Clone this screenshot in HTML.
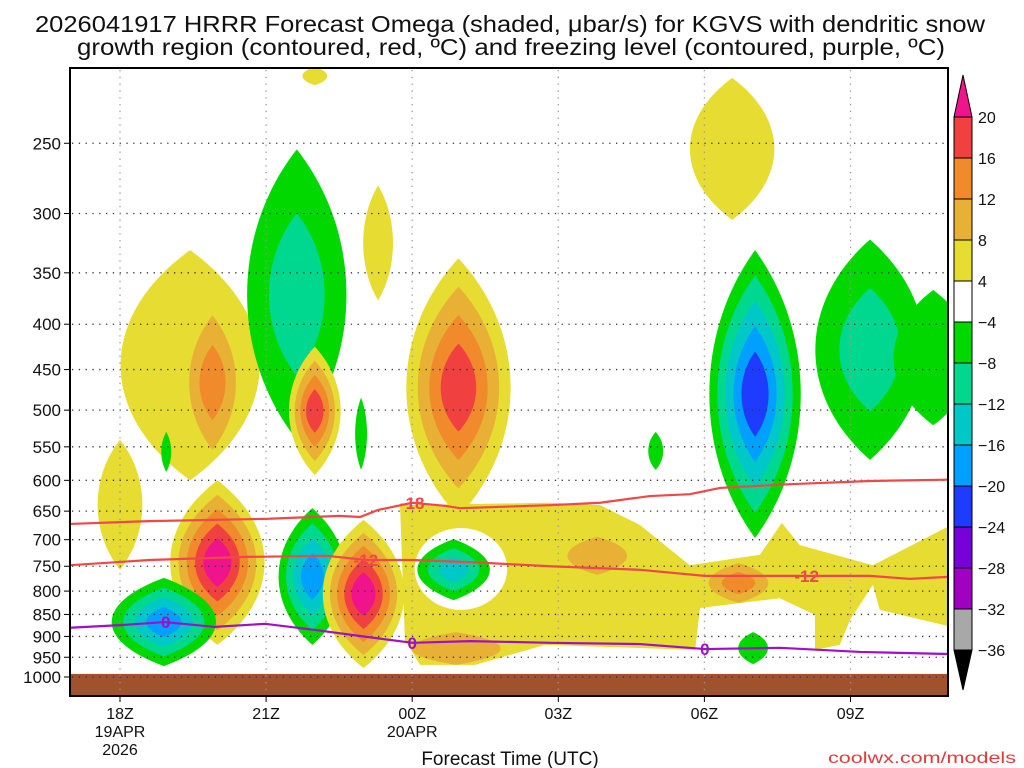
<!DOCTYPE html>
<html><head><meta charset="utf-8"><style>
html,body{margin:0;padding:0;background:#fff;}
svg{display:block;font-family:"Liberation Sans",sans-serif;}
</style></head><body>
<svg id="chart" width="1024" height="768" viewBox="0 0 1024 768" xmlns="http://www.w3.org/2000/svg">
<defs><clipPath id="plotclip"><rect x="70" y="68" width="878" height="628"/></clipPath></defs>
<text x="35" y="32" font-size="23" textLength="950" lengthAdjust="spacingAndGlyphs" fill="#111">2026041917 HRRR Forecast Omega (shaded, μbar/s) for KGVS with dendritic snow</text>
<text x="77" y="55" font-size="23" textLength="868" lengthAdjust="spacingAndGlyphs" fill="#111">growth region (contoured, red, ºC) and freezing level (contoured, purple, ºC)</text>
<g id="shading" clip-path="url(#plotclip)"></g>
<g id="grid"></g>
<g id="lines" clip-path="url(#plotclip)"></g>
<rect x="70" y="68" width="878" height="628" fill="none" stroke="#000" stroke-width="2"/>
<g id="axes"></g>
<g id="cbar"></g>
<text x="510" y="765" font-size="19" text-anchor="middle" fill="#111">Forecast Time (UTC)</text>
<text x="1016" y="763" font-size="16" text-anchor="end" fill="#e03a3a" textLength="188" lengthAdjust="spacingAndGlyphs">coolwx.com/models</text>
</svg>
<script>
// ---- data ----
const pressureTicks = [250,300,350,400,450,500,550,600,650,700,750,800,850,900,950,1000];
const timeTicks = [18,21,24,27,30,33];
const timeLabels = [["18Z","19APR","2026"],["21Z"],["00Z","20APR"],["03Z"],["06Z"],["09Z"]];
const cbarLabels = ["20","16","12","8","4","−4","−8","−12","−16","−20","−24","−28","−32","−36"];
const cbarColors = ["#f04040","#f08a2a","#e8b034","#e6dc32","#ffffff","#00d800","#00d890","#00c8c8","#00a0ff","#1e3cff","#7800d8","#a000c0","#a8a8a8"];
// blob: [hour, pTop, pBottom, halfWidthHours, levels]
const blobHours   = [22.0, 19.44, 19.9, 20.0, 18.0, 18.95, 18.9, 21.63, 22.0, 22.95, 23.3, 21.95, 23.0, 24.95, 30.57, 31.04, 33.4, 34.7, 29.0, 31.0, 27.8, 30.7, 24.9];
const blobTopP    = [205, 330, 391, 600, 540, 529, 773, 254, 424, 484, 279, 645, 665, 337, 211, 330, 321, 366, 529, 890, 695, 744, 890];
const blobBotP    = [215, 600, 554, 920, 757, 587, 972, 540, 592, 584, 376, 920, 977, 660, 305, 697, 569, 520, 584, 967, 767, 825, 969];
const blobWidth   = [0.25, 1.4, 0.47, 0.95, 0.45, 0.1, 1.05, 1.0, 0.52, 0.12, 0.3, 0.68, 0.82, 1.05, 0.85, 0.92, 1.1, 0.8, 0.15, 0.3, 0.6, 0.6, 0.9];
const blobLevels  = [["Y"],["Y"],["O8","O12"],["Y","O8","O12","R","M"],["Y"],["G"],["G","T","C","B"],["G","T"],["Y","O8","O12","R"],["G"],["Y"],["G","T","C","B"],["Y","O8","O12","R","M"],["Y","O8","O12","R"],["Y"],["G","T","C","B","B2"],["G","T"],["G"],["G"],["G"],["O8"],["O8","O12"],["O8"]];
// broad yellow band [hour, hPa]
const bandPoly = [[23.75,640],[26.83,636],[27.86,640],[28.68,674],[29.70,748],[31.14,728],[31.59,670],[31.96,710],[33.46,748],[35.2,668],[35.2,881],[33.6,840],[33.46,787],[32.99,862],[32.78,920],[32.27,932],[32.27,851],[31.55,815],[29.91,836],[29.81,932],[26.73,920],[25.29,969],[24.16,969],[23.85,908]];
// white hole around 01Z descent blob: [hour, pTop, pBot, halfWidth]
const holeBlob = [25.0, 679, 840, 0.95];
const holeGreen = [24.85, 699, 819, 0.73, ["G","T","C"]];
// contour lines
const freezeHours = [16.97,18,18.92,19.95,20.98,22.0,22.93,24.0,25.19,26.83,28.68,30.01,31.55,33.2,35.0];
const freezeP     = [880,874,867,878,871,885,899,915,911,915,918,930,927,937,942];
const m12Hours = [16.97,18.6,20.6,22.25,23.07,24.0,25.19,26.83,28.68,30.01,31.55,33.4,34.22,35.0];
const m12P     = [748,738,732,730,738,738,742,750,757,769,769,769,775,771];
const m18Hours = [16.97,18.6,21.06,22.5,22.93,23.3,24.0,24.67,24.98,26.83,27.86,28.88,29.7,30.32,31.76,33.4,35.0];
const m18P     = [672,667,663,658,660,648,636,641,645,640,636,625,622,612,606,601,599];
const labelFreeze = [[18.94,"0"],[24.0,"0"],[30.01,"0"]];
const labelM12 = [[23.05,"-12"],[32.1,"-12"]];
const labelM18 = [[24.0,"-18"]];
// ---- axes ----
const X = h => 120 + (h - 18) * 48.7;
const Y = p => 677 - 385 * Math.log(1000 / p);
const NS = "http://www.w3.org/2000/svg";
const colorMap = {Y:"#e6dc32",O8:"#e8b034",O12:"#f08a2a",R:"#f04040",M:"#f0148c",G:"#00d800",T:"#00d890",C:"#00c8c8",B:"#00a0ff",B2:"#1e3cff"};
function mk(tag, attrs, parent){const e=document.createElementNS(NS,tag);for(const k in attrs)e.setAttribute(k,attrs[k]);parent.appendChild(e);return e;}
const shading=document.getElementById('shading');
function lens(cx,cy,rx,ry){
  const k=rx*1.36, a=ry*0.42;
  return `M${cx},${cy-ry} C${cx+k},${cy-a} ${cx+k},${cy+a} ${cx},${cy+ry} C${cx-k},${cy+a} ${cx-k},${cy-a} ${cx},${cy-ry}Z`;
}
function drawBlob(h,pt,pb,w,levels,idx){
  const cx=X(h), y1=Y(pt), y2=Y(pb), cy=(y1+y2)/2, ry=(y2-y1)/2, rx=w*48.7;
  const n=levels.length;
  levels.forEach((lv,i)=>{
    const s=1-i/n*0.88;
    const e=mk('path',{d:lens(cx,cy,rx*s,ry*s),fill:colorMap[lv]},shading);
    
    
  });
}
const band=mk('polygon',{points:bandPoly.map(d=>X(d[0])+','+Y(d[1])).join(' '),fill:colorMap.Y},shading);


const hole=mk('ellipse',{cx:X(holeBlob[0]),cy:(Y(holeBlob[1])+Y(holeBlob[2]))/2,rx:holeBlob[3]*48.7,ry:(Y(holeBlob[2])-Y(holeBlob[1]))/2,fill:'#fff'},shading);


for(let i=0;i<blobHours.length;i++) drawBlob(blobHours[i],blobTopP[i],blobBotP[i],blobWidth[i],blobLevels[i],i);
drawBlob(holeGreen[0],holeGreen[1],holeGreen[2],holeGreen[3],holeGreen[4],'01z');
const ground=mk('rect',{x:70,y:Y(992),width:878,height:696-Y(992),fill:'#a0522d'},shading);


// grid
const grid=document.getElementById('grid');
pressureTicks.forEach(p=>{const l=mk('line',{x1:72,x2:946,y1:Y(p),y2:Y(p),stroke:'#333','stroke-width':1.3,'stroke-dasharray':'1.3,5.5'},grid);

});
timeTicks.forEach(h=>{const l=mk('line',{x1:X(h),x2:X(h),y1:70,y2:694,stroke:'#999','stroke-width':1.3,'stroke-dasharray':'1.3,5.5'},grid);

});
// lines
const lines=document.getElementById('lines');
function drawLine(hs,ps,color,name,labels){
  const pts=hs.map((h,i)=>X(h)+','+Y(ps[i])).join(' ');
  const pl=mk('polyline',{points:pts,fill:'none',stroke:color,'stroke-width':2.2},lines);
  
  
  labels.forEach(([h,t])=>{
    let k=0;while(k<hs.length-2&&hs[k+1]<h)k++;
    const f=(h-hs[k])/(hs[k+1]-hs[k]);const y=Y(ps[k])+(Y(ps[k+1])-Y(ps[k]))*f;
    const tx=mk('text',{x:X(h),y:y+6,'text-anchor':'middle','font-size':17,'font-weight':'bold',fill:color},lines);
    tx.textContent=t;
    
    
  });
}
drawLine(m18Hours,m18P,'#f04848','dgz-minus18-line',labelM18);
drawLine(m12Hours,m12P,'#f04848','dgz-minus12-line',labelM12);
drawLine(freezeHours,freezeP,'#a010c8','freezing-level-line',labelFreeze);
// axes labels
const axes=document.getElementById('axes');
pressureTicks.forEach(p=>{
  const t=mk('text',{x:61,y:Y(p)+6,'text-anchor':'end','font-size':17,fill:'#111'},axes);t.textContent=p;
  
  
  mk('line',{x1:64,x2:70,y1:Y(p),y2:Y(p),stroke:'#000','stroke-width':1},axes);
});
timeTicks.forEach((h,i)=>{
  mk('line',{x1:X(h),x2:X(h),y1:696,y2:702,stroke:'#000','stroke-width':1},axes);
  timeLabels[i].forEach((s,j)=>{
    const t=mk('text',{x:X(h),y:719+j*18,'text-anchor':'middle','font-size':16,fill:'#111'},axes);t.textContent=s;
    
    
  });
});
// colorbar
const cb=document.getElementById('cbar');
const top0=117, step=41.0, bx=954, bw=18;
const tri=mk('polygon',{points:`${bx},${top0} ${bx+bw},${top0} ${bx+bw/2},${top0-42}`,fill:'#f0148c',stroke:'#000','stroke-width':1},cb);


cbarColors.forEach((c,i)=>{
  const r=mk('rect',{x:bx,y:top0+i*step,width:bw,height:step,fill:c,stroke:'#000','stroke-width':1},cb);
  
  
});
const bot=top0+cbarColors.length*step;
const tri2=mk('polygon',{points:`${bx},${bot} ${bx+bw},${bot} ${bx+bw/2},${bot+40}`,fill:'#000',stroke:'#000','stroke-width':1},cb);


cbarLabels.forEach((s,i)=>{
  const t=mk('text',{x:978,y:top0+i*step+6,'font-size':16,fill:'#111'},cb);t.textContent=s;
  
  
});
</script>
</body></html>
